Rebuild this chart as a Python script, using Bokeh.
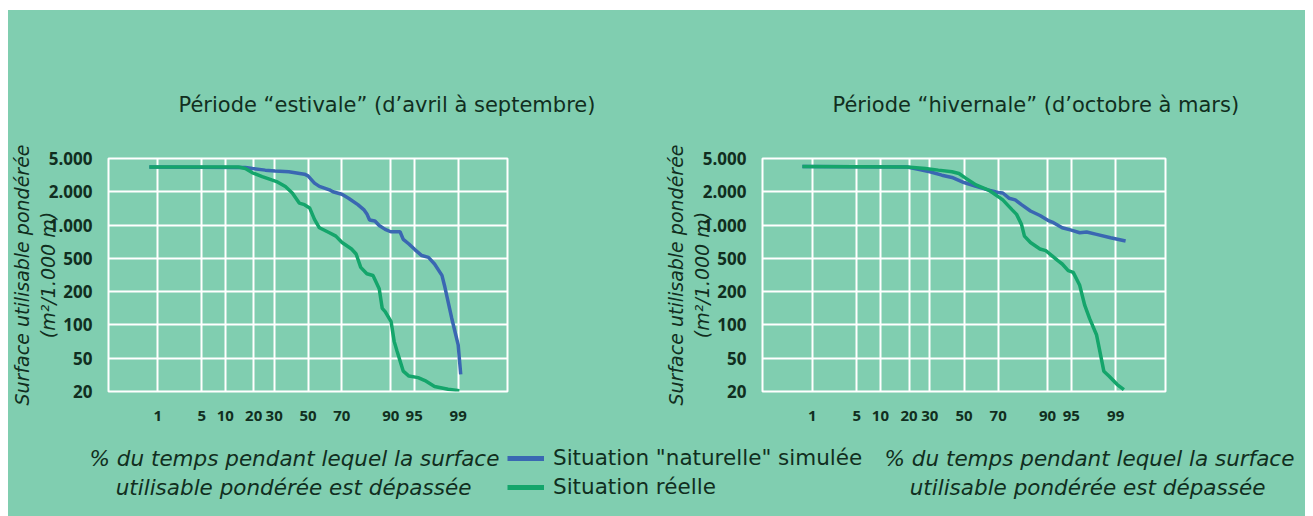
from statistics import NormalDist
import numpy as np
from bokeh.plotting import figure
from bokeh.layouts import column, row
from bokeh.models import Range1d, FixedTicker, Legend, LegendItem, Spacer
from bokeh.core.properties import value
from bokeh.embed import file_html
from bokeh.resources import INLINE

# ---------------- data ----------------
x_tick_pct = [1, 5, 10, 20, 30, 50, 70, 90, 95, 99]
y_tick_vals = [20, 50, 100, 200, 500, 1000, 2000, 5000]
y_tick_labels = ["20", "50", "100", "200", "500", "1.000", "2.000", "5.000"]

titles = ['Période “estivale” (d’avril à septembre)',
          'Période “hivernale” (d’octobre à mars)']
series_names = ['Situation "naturelle" simulée', 'Situation réelle']
y_title = "Surface utilisable pondérée\n(m²/1.000 m)"
x_title = ["% du temps pendant lequel la surface", "utilisable pondérée est dépassée"]

summer_nat_x = [0.7, 16.6, 19.5, 25.4, 30.5, 38.3, 47.8, 50, 54, 57, 63, 65, 70, 73.5, 78,
                80.6, 82, 83, 85, 86.5, 88.4, 90, 92.3, 93, 94.1, 95.1, 96.1, 96.9, 97.5,
                98.1, 98.3, 98.7, 99, 99.1]
summer_nat_y = [3950, 3900, 3800, 3630, 3550, 3470, 3250, 3100, 2540, 2320, 2110, 2000, 1900,
                1750, 1530, 1380, 1250, 1110, 1090, 990, 914, 870, 870, 742, 674, 600, 530,
                510, 428, 313, 227, 115, 66, 32]
summer_real_x = [0.7, 14.1, 16.6, 19.5, 23.9, 28.7, 31.3, 36.3, 40.4, 44.6, 47.8, 51, 54, 57,
                 63, 66.7, 70.1, 75, 77.2, 79.3, 81.9, 84.3, 86.5, 87.5, 88.4, 90.1, 90.9,
                 91.6, 93, 94.1, 95.6, 96.5, 97.5, 98.5, 99.05]
summer_real_y = [3950, 3950, 3800, 3370, 3030, 2770, 2650, 2310, 1950, 1580, 1530, 1430, 1125,
                 945, 853, 795, 695, 607, 547, 390, 327, 312, 217, 141, 132, 107, 71, 58, 35,
                 30.6, 29.3, 27, 23, 21.3, 20.4]
winter_nat_x = [0.66, 19.2, 24.7, 30, 36.7, 42.7, 50, 57.3, 64.3, 70, 72.4, 75.5, 78.4, 81.1,
                84.6, 87.8, 90.4, 91.5, 93.4, 95, 96.2, 97.0, 97.9, 98.77, 99.34]
winter_nat_y = [4000, 3950, 3690, 3470, 3160, 2970, 2580, 2320, 2110, 1970, 1950, 1750, 1690,
                1530, 1340, 1220, 1090, 1050, 945, 900, 853, 865, 824, 768, 717]
winter_real_x = [0.66, 19.2, 27.7, 34.7, 42.7, 46.9, 51, 57.3, 64.3, 67.2, 72.4, 76.9, 79.0,
                 81.1, 82.3, 84.6, 87.8, 89.5, 91.1, 92.5, 93.4, 94.5, 95.3, 96.2, 96.8, 97.3,
                 97.9, 98.4, 98.7, 99.06, 99.29]
winter_real_y = [4000, 3950, 3800, 3630, 3470, 3310, 2910, 2420, 2110, 1950, 1690, 1380, 1250,
                 1015, 795, 695, 607, 587, 530, 469, 428, 356, 340, 238, 150, 114, 81, 35,
                 30.5, 24.2, 21]

# ---------------- styles ----------------
BG = "#80ceb0"
BLUE = "#3a67b2"
GREEN = "#14a56b"
TXT = "#112e20"
FONT = "DejaVu Sans"
TICK_FONT = "Open Sans"

nd = NormalDist()


def px(pcts):
    return [round(nd.inv_cdf(v / 100.0), 4) for v in pcts]


_logt = np.log10(y_tick_vals)
_idx = np.arange(len(y_tick_vals))


def py(vals):
    return list(np.interp(np.log10(vals), _logt, _idx))


def make_panel(title, nat_x, nat_y, real_x, real_y, width, left, right, top, bottom):
    p = figure(width=width, height=430, output_backend="svg", toolbar_location=None,
               x_range=Range1d(px([0.1])[0], px([99.9])[0]),
               y_range=Range1d(0, len(y_tick_vals) - 1),
               min_border_left=left, min_border_right=right,
               min_border_top=top, min_border_bottom=bottom)
    p.background_fill_color = BG
    p.border_fill_color = BG
    p.outline_line_color = "white"
    p.outline_line_width = 2

    p.title.text = title
    p.title.text_font = FONT
    p.title.text_font_size = "21px"
    p.title.text_font_style = "normal"
    p.title.text_color = TXT
    p.title.align = "left"
    p.title.offset = 70
    p.title.standoff = 83

    xt = px(x_tick_pct)
    p.xaxis.ticker = FixedTicker(ticks=xt)
    p.xaxis.major_label_overrides = {t: str(v) for t, v in zip(xt, x_tick_pct)}
    p.xgrid.ticker = FixedTicker(ticks=xt)
    yt = list(range(len(y_tick_vals)))
    p.yaxis.ticker = FixedTicker(ticks=yt)
    p.yaxis.major_label_overrides = {t: s for t, s in zip(yt, y_tick_labels)}
    p.ygrid.ticker = FixedTicker(ticks=yt)

    for ax in (p.xaxis, p.yaxis):
        ax.axis_line_color = None
        ax.major_tick_line_color = None
        ax.minor_tick_line_color = None
        ax.major_label_text_font = TICK_FONT
        ax.major_label_text_color = TXT
        ax.major_label_text_font_style = "bold"
    p.yaxis.major_label_text_font_size = "17px"
    p.xaxis.major_label_text_font_size = "15px"
    p.yaxis.major_label_standoff = 10
    p.xaxis.major_label_standoff = 13
    p.yaxis.axis_label = y_title
    p.yaxis.axis_label_text_font = FONT
    p.yaxis.axis_label_text_font_style = "italic"
    p.yaxis.axis_label_text_font_size = "19px"
    p.yaxis.axis_label_text_line_height = 1.15
    p.yaxis.axis_label_text_color = TXT
    p.yaxis.axis_label_standoff = -13

    p.grid.grid_line_color = "white"
    p.grid.grid_line_width = 2
    p.grid.grid_line_alpha = 1

    p.line(px(nat_x), py(nat_y), color=BLUE, line_width=3.5)
    p.line(px(real_x), py(real_y), color=GREEN, line_width=3.5)
    return p


pl = make_panel(titles[0], summer_nat_x, summer_nat_y, summer_real_x, summer_real_y,
                652, 99, 153, 145, 49)
pr = make_panel(titles[1], winter_nat_x, winter_nat_y, winter_real_x, winter_real_y,
                645, 102, 140, 148, 45)

fb = figure(width=1297, height=76, output_backend="svg", toolbar_location=None,
            x_range=Range1d(8, 1305), y_range=Range1d(516, 440),
            x_axis_type=None, y_axis_type=None, min_border=0)
fb.background_fill_color = BG
fb.border_fill_color = BG
fb.outline_line_color = None

fb.text(x=[294, 293, 1089, 1087], y=[458, 487, 458, 487],
        text=[x_title[0], x_title[1], x_title[0], x_title[1]],
        text_align="center", text_baseline="middle", text_font=value(FONT),
        text_font_style="italic", text_font_size="21.5px", text_color=TXT)

r1 = fb.line(x=[np.nan], y=[np.nan], color=BLUE, line_width=5)
r2 = fb.line(x=[np.nan], y=[np.nan], color=GREEN, line_width=5)
legend = Legend(items=[LegendItem(label=series_names[0], renderers=[r1]),
                       LegendItem(label=series_names[1], renderers=[r2])],
                location=(499, 17), glyph_width=37, glyph_height=24, label_height=24,
                spacing=4, padding=0, margin=0, border_line_color=None,
                background_fill_alpha=0, label_text_font=FONT,
                label_text_font_size="21.5px",
                label_standoff=9, label_text_color=TXT)
fb.add_layout(legend)

inner = column(row(pl, pr), fb, styles={"background-color": BG})
layout = column(Spacer(height=10), row(Spacer(width=8), inner))
open("out.html", "w").write(file_html(layout, INLINE))
